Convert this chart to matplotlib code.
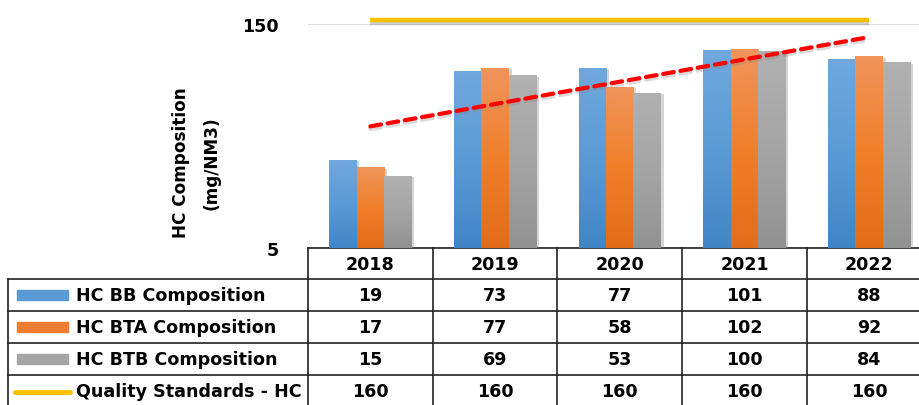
import numpy as np
import matplotlib
matplotlib.use("Agg")
import matplotlib.pyplot as plt
import matplotlib.transforms as mtransforms
import matplotlib.patheffects as pe
from matplotlib.patches import Rectangle
from matplotlib.lines import Line2D
from matplotlib.colors import LinearSegmentedColormap

years = ["2018", "2019", "2020", "2021", "2022"]
hc_bb = [19, 73, 77, 101, 88]
hc_bta = [17, 77, 58, 102, 92]
hc_btb = [15, 69, 53, 100, 84]
quality_std = [160, 160, 160, 160, 160]
series_names = ["HC BB Composition", "HC BTA Composition", "HC BTB Composition"]
std_name = "Quality Standards - HC"
colors = ["#5B9BD5", "#ED7D31", "#A5A5A5"]
gradients = [["#4185C6", "#5B9BD5", "#70A8DD"],
             ["#E36C18", "#F07F2A", "#F0955C"],
             ["#929292", "#A5A5A5", "#B1B1B1"]]
std_color = "#FFC000"
trend_color = "#FF0000"
y_ticks = [5, 150]

plt.rcParams["font.family"] = ["DejaVu Sans"]
plt.rcParams["font.weight"] = "bold"
FS = 12.6

W, H = 919, 406
fig = plt.figure(figsize=(W / 100, H / 100), dpi=100)

def fx(px):
    return px / W

def fy(py):
    return 1 - py / H

ax_left, ax_right, ax_top, ax_bottom = 308, 931.5, 25, 249
ax = fig.add_axes([fx(ax_left), fy(ax_bottom), fx(ax_right - ax_left), (ax_bottom - ax_top) / H])
ax.set_yscale("log")
ax.set_ylim(5, 150)
n = len(years)
x = np.arange(n)
ax.set_xlim(-0.5, n - 0.5)
ax.set_autoscale_on(False)

bw = 0.22
series = [hc_bb, hc_bta, hc_btb]
grad = np.linspace(0, 1, 256).reshape(-1, 1)
data_to_axes = ax.transData + ax.transAxes.inverted()
for k, (vals, c, g) in enumerate(zip(series, colors, gradients)):
    bars = ax.bar(x + (k - 1) * bw, vals, width=bw, color=c, zorder=3)
    cmap = LinearSegmentedColormap.from_list(f"g{k}", g)
    for b in bars:
        b.set_path_effects([pe.SimplePatchShadow(offset=(2, -1), shadow_rgbFace="#888888", alpha=0.35), pe.Normal()])
        (x0, y0), (x1, y1) = data_to_axes.transform([(b.get_x(), 5), (b.get_x() + b.get_width(), b.get_height())])
        im = ax.imshow(grad, cmap=cmap, origin="lower", aspect="auto", extent=[x0, x1, y0, y1],
                       transform=ax.transAxes, zorder=3.5, interpolation="bilinear")
        im.set_clip_path(b)

ax.set_xlim(-0.5, n - 0.5)
ax.set_ylim(5, 150)

ax.set_yticks(y_ticks)
ax.set_yticklabels([str(t) for t in y_ticks], fontsize=FS, fontweight="bold")
ax.yaxis.set_minor_locator(matplotlib.ticker.NullLocator())
ax.tick_params(axis="y", length=0, pad=21)
ax.set_xticks([])
ax.grid(axis="y", color="#D9D9D9", linewidth=1.2, zorder=0)
for s in ["top", "right", "left"]:
    ax.spines[s].set_visible(False)
ax.spines["bottom"].set_color("#222222")
ax.spines["bottom"].set_linewidth(1.2)

# quality standard line
ax.plot(x, quality_std, color=std_color, linewidth=3.2, clip_on=False, zorder=4,
        solid_capstyle="butt",
        path_effects=[pe.SimpleLineShadow(offset=(0, -2.5), shadow_color="#777777", alpha=0.35), pe.Normal()])

# exponential trendline on HC BB
coef = np.polyfit(x, np.log(hc_bb), 1)
trend = np.exp(np.polyval(coef, x))
ax.plot(x, trend, color=trend_color, linewidth=3.0, linestyle=(0, (2.6, 1.6)), zorder=5,
        dash_capstyle="round",
        path_effects=[pe.SimpleLineShadow(offset=(0, -2), shadow_color="#888888", alpha=0.3), pe.Normal()])

ax.set_ylabel("HC Composition\n(mg/NM3)", fontsize=12.2, fontweight="bold", labelpad=0, linespacing=1.95)
ax.yaxis.set_label_coords((221 - ax_left) / (ax_right - ax_left), 0.385)

# ---- data table ----
bt = mtransforms.blended_transform_factory(ax.transData, fig.transFigure)
ft = fig.transFigure
row_edges = [249, 280, 312, 344, 376, 409]
tab_left = 8
lc = "#222222"
lw = 1.2

for ry in row_edges[1:]:
    fig.add_artist(Line2D([fx(tab_left), fx(ax_right)], [fy(ry), fy(ry)], color=lc, lw=lw, transform=ft))
for j in range(n + 1):
    fig.add_artist(Line2D([j - 0.5, j - 0.5], [fy(row_edges[0]), fy(row_edges[-1])], color=lc, lw=lw, transform=bt))
fig.add_artist(Line2D([fx(tab_left), fx(tab_left)], [fy(row_edges[1]), fy(row_edges[-1])], color=lc, lw=lw, transform=ft))

def row_center(r):
    return fy((row_edges[r] + row_edges[r + 1]) / 2)

for j, yr in enumerate(years):
    fig.text(j, row_center(0), yr, transform=bt, ha="center", va="center", fontsize=FS, fontweight="bold")

rows = series + [quality_std]
for r, vals in enumerate(rows, start=1):
    for j, v in enumerate(vals):
        fig.text(j, row_center(r), str(v), transform=bt, ha="center", va="center", fontsize=FS, fontweight="bold")

labels = series_names + [std_name]
for r, lab in enumerate(labels, start=1):
    fig.text(fx(76), row_center(r), lab, ha="left", va="center", fontsize=FS, fontweight="bold")

for r, c in enumerate(colors, start=1):
    cy = (row_edges[r] + row_edges[r + 1]) / 2
    fig.add_artist(Rectangle((fx(17), fy(cy + 5)), fx(51), 10 / H, color=c, transform=ft))
cy = (row_edges[4] + row_edges[5]) / 2
fig.add_artist(Line2D([fx(15), fx(70)], [fy(cy), fy(cy)], color=std_color, lw=3.5, solid_capstyle="round", transform=ft))

fig.savefig("out.png", dpi=100)
